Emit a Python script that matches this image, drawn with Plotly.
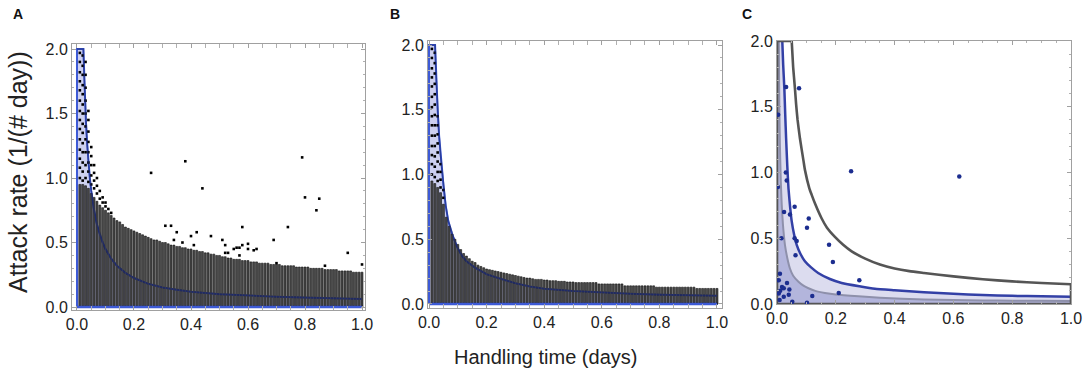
import plotly.graph_objects as go

# ---------------- data ----------------
handling_time = [round(0.01 * i, 2) for i in range(1, 101)]

# Panel A: top of each box (upper whisker)
a_box_top = [0.95, 0.95, 0.94, 0.92, 0.88, 0.85, 0.82, 0.79, 0.77, 0.75,
             0.73, 0.71, 0.69, 0.67, 0.66, 0.64, 0.62, 0.61, 0.60, 0.59,
             0.58, 0.57, 0.56, 0.55, 0.54, 0.53, 0.52, 0.52, 0.51, 0.50,
             0.50, 0.49, 0.48, 0.48, 0.47, 0.47, 0.46, 0.46, 0.45, 0.45,
             0.44, 0.44, 0.43, 0.43, 0.42, 0.42, 0.41, 0.41, 0.40, 0.40,
             0.39, 0.39, 0.38, 0.38, 0.37, 0.37, 0.37, 0.36, 0.36, 0.36,
             0.35, 0.35, 0.35, 0.34, 0.34, 0.34, 0.34, 0.33, 0.33, 0.33,
             0.33, 0.32, 0.32, 0.32, 0.32, 0.32, 0.31, 0.31, 0.31, 0.31,
             0.31, 0.30, 0.30, 0.30, 0.30, 0.30, 0.29, 0.29, 0.29, 0.29,
             0.29, 0.28, 0.28, 0.28, 0.28, 0.28, 0.27, 0.27, 0.27, 0.27]

# Panel B: top of each box
b_box_top = [0.95, 0.93, 0.90, 0.86, 0.77, 0.67, 0.60, 0.54, 0.50, 0.46,
             0.42, 0.39, 0.37, 0.35, 0.33, 0.32, 0.30, 0.29, 0.28, 0.27,
             0.265, 0.26, 0.255, 0.25, 0.245, 0.24, 0.235, 0.23, 0.225, 0.22,
             0.215, 0.21, 0.205, 0.20, 0.20, 0.195, 0.19, 0.19, 0.19, 0.185,
             0.185, 0.18, 0.18, 0.18, 0.175, 0.175, 0.175, 0.17, 0.17, 0.17,
             0.165, 0.165, 0.165, 0.165, 0.165, 0.165, 0.165, 0.165, 0.155, 0.155,
             0.155, 0.155, 0.155, 0.155, 0.155, 0.155, 0.155, 0.14, 0.14, 0.14,
             0.14, 0.14, 0.14, 0.14, 0.14, 0.14, 0.14, 0.14, 0.13, 0.13,
             0.13, 0.13, 0.13, 0.13, 0.13, 0.13, 0.13, 0.13, 0.13, 0.13,
             0.13, 0.13, 0.12, 0.12, 0.12, 0.12, 0.12, 0.12, 0.12, 0.12]

# outlier points, panel A
a_out_x = ([0.01] * 14 + [0.02] * 14 + [0.03] * 10 + [0.04] * 8 + [0.05] * 5 +
           [0.06] * 4 + [0.07] * 3 + [0.08] * 2 + [0.09] * 2 + [0.10] * 2 +
           [0.11, 0.12] +
           [0.26, 0.38, 0.44, 0.31, 0.33, 0.34, 0.35, 0.37, 0.40, 0.41, 0.42,
            0.47, 0.51, 0.52, 0.52, 0.53, 0.55, 0.56, 0.57, 0.57, 0.58, 0.58,
            0.60, 0.60, 0.62, 0.63, 0.69, 0.70, 0.74, 0.79, 0.80, 0.84, 0.85,
            0.87, 0.95, 1.00])
a_out_y = ([1.00, 1.08, 1.15, 1.22, 1.30, 1.38, 1.45, 1.52, 1.60, 1.68, 1.75, 1.82, 1.90, 1.97] +
           [0.98, 1.05, 1.12, 1.20, 1.27, 1.35, 1.42, 1.50, 1.57, 1.65, 1.72, 1.80, 1.87, 1.95] +
           [1.00, 1.10, 1.20, 1.30, 1.40, 1.50, 1.60, 1.70, 1.80, 1.90] +
           [0.97, 1.05, 1.12, 1.20, 1.28, 1.36, 1.45, 1.52] +
           [0.95, 1.02, 1.10, 1.17, 1.24] +
           [0.92, 0.98, 1.04, 1.10] +
           [0.88, 0.94, 1.00] +
           [0.84, 0.90] + [0.81, 0.85] + [0.78, 0.81] +
           [0.76, 0.73] +
           [1.04, 1.13, 0.92, 0.63, 0.63, 0.52, 0.58, 0.50, 0.55, 0.48, 0.58,
            0.55, 0.52, 0.48, 0.42, 0.42, 0.45, 0.46, 0.46, 0.40, 0.48, 0.62,
            0.49, 0.45, 0.44, 0.45, 0.52, 0.34, 0.62, 1.16, 0.85, 0.75, 0.84,
            0.32, 0.42, 0.33])

# outlier points, panel B
b_out_x = ([0.01] * 14 + [0.02] * 13 + [0.03] * 8 + [0.04] * 4 + [0.05] * 2)
b_out_y = ([1.00, 1.08, 1.15, 1.22, 1.30, 1.38, 1.45, 1.52, 1.60, 1.68, 1.75, 1.82, 1.90, 1.97] +
           [0.98, 1.06, 1.14, 1.22, 1.30, 1.38, 1.46, 1.54, 1.62, 1.70, 1.78, 1.86, 1.94] +
           [0.95, 1.02, 1.10, 1.17, 1.24, 1.31, 1.38, 1.45] +
           [0.90, 0.96, 1.02, 1.08] +
           [0.82, 0.88])

# model curve (blue) in panels A and B
a_curve_x = [0.0, 0.0225, 0.025, 0.028, 0.031, 0.035, 0.04, 0.045, 0.05, 0.06, 0.07,
             0.08, 0.09, 0.10, 0.12, 0.14, 0.17, 0.20, 0.25, 0.30, 0.35, 0.40,
             0.50, 0.60, 0.70, 0.80, 0.90, 1.00]
a_curve_y = [2.0, 2.0, 1.80, 1.61, 1.45, 1.29, 1.12, 1.0, 0.90, 0.75, 0.64,
             0.56, 0.50, 0.45, 0.375, 0.32, 0.265, 0.225, 0.18, 0.152, 0.133, 0.118,
             0.10, 0.088, 0.080, 0.073, 0.067, 0.062]
b_curve_x = [0.0, 0.021, 0.025, 0.03, 0.035, 0.04, 0.044, 0.05, 0.058, 0.067, 0.08,
             0.09, 0.10, 0.115, 0.13, 0.16, 0.20, 0.24, 0.30, 0.35, 0.40, 0.50,
             0.60, 0.70, 0.80, 0.90, 1.00]
b_curve_y = [2.0, 2.0, 1.75, 1.5, 1.3, 1.15, 1.05, 0.92, 0.76, 0.64, 0.54,
             0.48, 0.43, 0.37, 0.33, 0.28, 0.23, 0.20, 0.16, 0.135, 0.118, 0.10,
             0.088, 0.079, 0.072, 0.068, 0.064]

# panel C curves
c_upper_x = [0.05, 0.055, 0.061, 0.065, 0.07, 0.078, 0.09, 0.095, 0.11, 0.118,
             0.13, 0.152, 0.17, 0.197, 0.225, 0.254, 0.30, 0.35, 0.40, 0.45, 0.50,
             0.60, 0.70, 0.80, 0.90, 1.00]
c_upper_y = [2.0, 1.80, 1.64, 1.52, 1.40, 1.26, 1.09, 1.02, 0.88, 0.83,
             0.76, 0.65, 0.58, 0.51, 0.45, 0.40, 0.345, 0.30, 0.27, 0.25, 0.236,
             0.21, 0.188, 0.172, 0.16, 0.15]
c_mid_x = [0.0, 0.018, 0.021, 0.025, 0.028, 0.031, 0.035, 0.039, 0.045, 0.05, 0.058,
           0.067, 0.08, 0.095, 0.115, 0.14, 0.18, 0.22, 0.28, 0.333, 0.40, 0.50,
           0.60, 0.70, 0.80, 0.90, 1.00]
c_mid_y = [2.0, 2.0, 1.82, 1.64, 1.44, 1.26, 1.05, 0.88, 0.73, 0.63, 0.53,
           0.45, 0.38, 0.325, 0.28, 0.236, 0.19, 0.16, 0.135, 0.116, 0.105, 0.09,
           0.078, 0.068, 0.062, 0.058, 0.055]
c_low_x = [0.0, 0.006, 0.008, 0.01, 0.013, 0.016, 0.02, 0.027, 0.035, 0.044, 0.055,
           0.073, 0.09, 0.107, 0.13, 0.163, 0.20, 0.277, 0.35, 0.50, 0.60, 0.70,
           0.80, 0.90, 1.00]
c_low_y = [2.0, 2.0, 1.5, 1.2, 0.93, 0.76, 0.61, 0.45, 0.35, 0.27, 0.215,
           0.17, 0.14, 0.12, 0.10, 0.084, 0.072, 0.058, 0.048, 0.034, 0.030, 0.027,
           0.025, 0.024, 0.022]

c_pts_x = [0.031, 0.075, 0.252, 0.62, 0.030, 0.033, 0.060, 0.044, 0.024, 0.108,
           0.102, 0.060, 0.067, 0.015, 0.177, 0.063, 0.190, 0.280, 0.010, 0.034,
           0.042, 0.040, 0.017, 0.023, 0.011, 0.006, 0.023, 0.009, 0.052, 0.102,
           0.120, 0.210, 0.006, 0.003, 0.004]
c_pts_y = [1.65, 1.64, 1.01, 0.97, 1.00, 0.94, 0.74, 0.68, 0.70, 0.65,
           0.58, 0.50, 0.48, 0.50, 0.45, 0.37, 0.32, 0.18, 0.23, 0.16,
           0.11, 0.07, 0.13, 0.12, 0.10, 0.08, 0.056, 0.03, 0.018, 0.01,
           0.06, 0.083, 0.18, 0.89, 1.44]

tick_x = [0.0, 0.2, 0.4, 0.6, 0.8, 1.0]
tick_y = [0.0, 0.5, 1.0, 1.5, 2.0]

# ---------------- styling ----------------
LAV = "#cdd0f0"
BLUE = "#3d5ad6"
BOX_FILL = "#4a4a4a"

fig = go.Figure()


def box_panel(xa, ya, ya_top, tops, cx, cy, ox, oy):
    n = len(tops)
    # fill under model curve (base layer)
    fig.add_trace(go.Scatter(x=[0] + cx + [cx[-1], 0], y=[0] + cy + [0, 0],
                             fill="toself", fillcolor=LAV, mode="lines",
                             line=dict(color=BLUE, width=2),
                             xaxis=xa, yaxis=ya, hoverinfo="skip"))
    # boxes on overlay layer
    fig.add_trace(go.Box(x=handling_time, q1=[0] * n, median=[0] * n, q3=tops,
                         lowerfence=[0] * n, upperfence=tops, width=0.0068,
                         fillcolor=BOX_FILL, line=dict(color="#111111", width=0.6),
                         boxpoints=False, whiskerwidth=0,
                         xaxis=xa, yaxis=ya_top))
    fig.add_trace(go.Scatter(x=ox, y=oy, mode="markers",
                             marker=dict(color="black", size=2.6, symbol="square"),
                             xaxis=xa, yaxis=ya_top, hoverinfo="skip"))
    fig.add_trace(go.Scatter(x=cx, y=cy, mode="lines",
                             line=dict(color="rgba(28,42,120,0.6)", width=1.6),
                             xaxis=xa, yaxis=ya_top, hoverinfo="skip"))
    fig.add_trace(go.Scatter(x=[0, cx[-1]], y=[0, 0], mode="lines",
                             line=dict(color=BLUE, width=2.5),
                             xaxis=xa, yaxis=ya_top, hoverinfo="skip"))


box_panel("x", "y", "y4", a_box_top, a_curve_x, a_curve_y, a_out_x, a_out_y)
box_panel("x2", "y2", "y5", b_box_top, b_curve_x, b_curve_y, b_out_x, b_out_y)

# Panel C
SPL = dict(shape="spline", smoothing=0.5)
fig.add_trace(go.Scatter(x=c_mid_x, y=c_mid_y, fill="tozeroy", fillcolor="#dcdcef",
                         mode="lines", line=dict(width=0, **SPL),
                         xaxis="x3", yaxis="y3", hoverinfo="skip"))
fig.add_trace(go.Scatter(x=c_low_x, y=c_low_y, fill="tozeroy", fillcolor="#b3b5dc",
                         mode="lines", line=dict(width=0, **SPL),
                         xaxis="x3", yaxis="y3", hoverinfo="skip"))
fig.add_trace(go.Scatter(x=c_low_x[1:], y=c_low_y[1:], mode="lines",
                         line=dict(color="#8e90ab", width=2, **SPL),
                         xaxis="x3", yaxis="y3", hoverinfo="skip"))
fig.add_trace(go.Scatter(x=c_mid_x[1:], y=c_mid_y[1:], mode="lines",
                         line=dict(color="#3340a6", width=2.5, **SPL),
                         xaxis="x3", yaxis="y3", hoverinfo="skip"))
# upper-bound region: curve plus its straight edges along the frame
fig.add_trace(go.Scatter(x=c_upper_x, y=c_upper_y, mode="lines",
                         line=dict(color="#555555", width=2.6, **SPL),
                         xaxis="x3", yaxis="y3", hoverinfo="skip"))
fig.add_trace(go.Scatter(x=[c_upper_x[0], 0, 0, c_upper_x[-1], c_upper_x[-1]],
                         y=[c_upper_y[0], c_upper_y[0], 0, 0, c_upper_y[-1]],
                         mode="lines", line=dict(color="#555555", width=2.6),
                         xaxis="x3", yaxis="y3", hoverinfo="skip"))
fig.add_trace(go.Scatter(x=c_pts_x, y=c_pts_y, mode="markers",
                         marker=dict(color="#1c2d8f", size=4.5),
                         xaxis="x3", yaxis="y3", hoverinfo="skip"))

W, H = 1084, 374
FONT = "Liberation Sans, Arial, sans-serif"


def axis(domain, rng, ticks, minor, anchor):
    return dict(domain=domain, range=rng, tickvals=ticks, tickformat=".1f",
                anchor=anchor, automargin=False, ticklabeloverflow="allow",
                showgrid=False, zeroline=False, showline=True, linecolor="#a0a0a0",
                linewidth=1, mirror="allticks", ticks="inside", ticklen=4,
                tickcolor="#a0a0a0", tickfont=dict(family=FONT, size=16, color="#222222"),
                minor=dict(dtick=minor, tick0=0, ticks="inside", ticklen=2,
                           tickcolor="#b0b0b0"),
                fixedrange=True)


def overlay(base, rng, anchor):
    return dict(overlaying=base, anchor=anchor, range=rng, visible=False,
                automargin=False, fixedrange=True)


def px_x(a, b):
    return [a / W, b / W]


def px_y(top, bottom):
    return [(H - bottom) / H, (H - top) / H]


ya_rng = [-0.023, 2.039]
yb_rng = [-0.031, 2.031]

fig.update_layout(
    template="none",
    width=W, height=H, margin=dict(l=0, r=0, t=0, b=0, pad=0),
    paper_bgcolor="white", plot_bgcolor="white", showlegend=False,
    xaxis=axis(px_x(72, 365), [-0.0175, 1.0105], tick_x, 0.05, "y"),
    yaxis=axis(px_y(44, 310), ya_rng, tick_y, 0.1, "x"),
    xaxis2=axis(px_x(428, 722), [-0.0035, 1.0174], tick_x, 0.05, "y2"),
    yaxis2=axis(px_y(41, 308), yb_rng, tick_y, 0.1, "x2"),
    xaxis3=axis(px_x(777, 1071), [0, 1], tick_x, 0.05, "y3"),
    yaxis3=axis(px_y(41, 304), [0, 2], tick_y, 0.1, "x3"),
    yaxis4=overlay("y", ya_rng, "x"),
    yaxis5=overlay("y2", yb_rng, "x2"),
)

annos = [
    dict(text="<b>A</b>", x=11 / W, y=(H - 14) / H),
    dict(text="<b>B</b>", x=388 / W, y=(H - 14) / H),
    dict(text="<b>C</b>", x=740 / W, y=(H - 14) / H),
]
for a in annos:
    fig.add_annotation(text=a["text"], x=a["x"], y=a["y"], xref="paper", yref="paper",
                       xanchor="left", yanchor="middle", showarrow=False,
                       font=dict(family=FONT, size=14, color="#111111"))
fig.add_annotation(text="Attack rate (1/(# day))", x=18 / W, y=(H - 172) / H,
                   xref="paper", yref="paper", textangle=-90, showarrow=False,
                   xanchor="center", yanchor="middle",
                   font=dict(family=FONT, size=25, color="#222222"))
fig.add_annotation(text="Handling time (days)", x=545 / W, y=(H - 357) / H,
                   xref="paper", yref="paper", showarrow=False,
                   xanchor="center", yanchor="middle",
                   font=dict(family=FONT, size=20, color="#222222"))

fig.write_html("out.html", config={"displayModeBar": False},
               post_script="document.body.style.margin='0';"
                           "document.body.style.overflow='hidden';")
